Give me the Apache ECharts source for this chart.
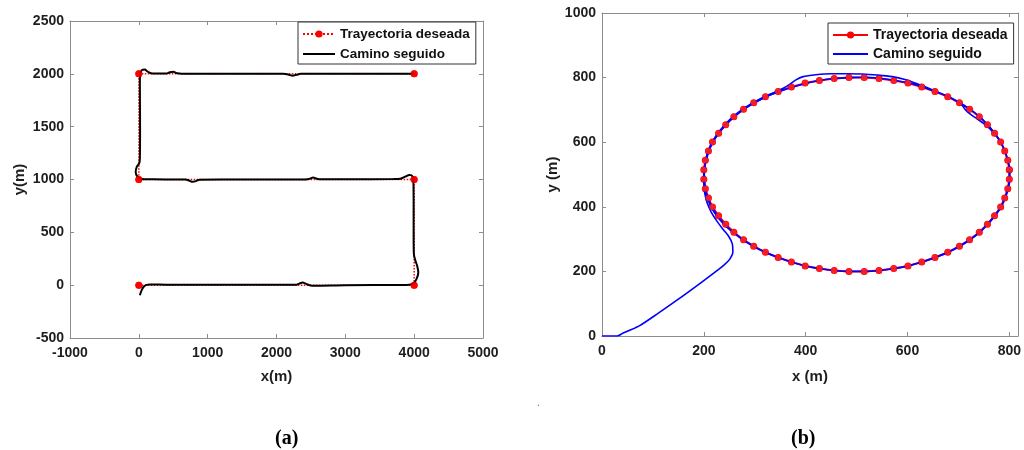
<!DOCTYPE html>
<html>
<head>
<meta charset="utf-8">
<script src="https://cdn.jsdelivr.net/npm/echarts@6/dist/echarts.min.js"></script>
<style>html,body{margin:0;padding:0;background:#fff}#c{width:1024px;height:450px}</style>
</head>
<body>
<div id="c"></div>
<script>
// ---- Plot (a): desired trajectory corners and followed path ----
var desiredA = [[0,0],[4000,0],[4000,1000],[0,1000],[0,2000],[4000,2000]];
var pathA = [[15,-95],[40,-50],[70,-15],[110,3],[160,7],[400,5],[1000,3],[2000,3],[2280,3],[2330,15],[2380,25],[2430,12],[2480,0],[2550,-5],[3000,0],[3800,2],[3930,5],[3990,18],[4035,60],[4060,120],[4045,180],[4015,237],[3995,300],[3992,500],[3992,800],[3990,950],[3988,1010],[3960,1040],[3930,1043],[3870,1027],[3800,1008],[3700,1004],[3000,1003],[2620,1003],[2570,1010],[2530,1020],[2490,1008],[2420,1000],[2000,1000],[1200,1000],[880,998],[830,985],[780,978],[730,990],[680,1000],[500,1000],[150,1003],[40,1005],[-20,1027],[-46,1070],[-30,1120],[5,1152],[15,1200],[18,1500],[15,1900],[18,1990],[40,2032],[85,2040],[130,2020],[200,2003],[400,2003],[450,2015],[500,2020],[560,2005],[700,2000],[2100,2000],[2180,1992],[2230,1983],[2290,1990],[2350,2000],[3000,2000],[4000,2000]];

// ---- Plot (b): desired circular trajectory points and followed path ----
var desiredB = [[800,515],[797,544],[791,573],[783,601],[771,628],[757,654],[741,679],[722,702],[702,722],[679,741],[654,757],[628,771],[601,783],[573,791],[544,797],[515,800],
[485,800],[456,797],[427,791],[399,783],[372,771],[346,757],[321,741],[298,722],[278,702],[259,679],[243,654],[229,628],[217,601],[209,573],[203,544],[200,515],
[200,485],[203,456],[209,427],[217,399],[229,372],[243,346],[259,321],[278,298],[298,278],[321,259],[346,243],[372,229],[399,217],[427,209],[456,203],[485,200],
[515,200],[544,203],[573,209],[601,217],[628,229],[654,243],[679,259],[702,278],[722,298],[741,321],[757,346],[771,372],[783,399],[791,427],[797,456],[800,485],[800,515]];
var pathB = [[0,0],[30,0],[40,8],[52,16],[74,32],[110,70],[150,114],[190,160],[222,198],[240,220],[251,238],[257,260],[256,285],[249,308],[238,330],[226,355],[215,382],[207,410],[202,440],[200,470],[200,500],
[202,530],[206,560],[213,590],[223,618],[236,645],[251,670],[269,694],[290,716],[313,736],[338,754],[355,766],[368,778],[380,792],[395,803],[420,809],[450,812],[480,812],[510,811],[540,808],[570,803],[595,794],[620,780],[645,765],[670,748],[692,731],[706,716],[714,700],[724,686],[738,671],[752,655],[764,638],[775,618],[784,597],[791,573],[797,544],[800,515],[800,485],[797,456],[791,427],[783,399],[771,372],[757,346],[741,321],[722,298],[702,278],[679,259],[654,243],[628,229],[601,217],[573,209],[544,203],[515,200],[485,200],[456,203],[427,209],[399,217],[372,229],[346,243],[321,259],[300,276],[283,292],[268,308],[254,325],[240,345],[227,368],[216,394],[208,423],[203,453],[201,483],
[201,513],[204,543],[210,572],[218,600],[229,627],[243,653],[259,678],[278,701],[299,721],[322,740],[347,756],[373,770],[400,782],[428,791],[457,797],[486,800],[515,801],[544,798],[573,792],[601,784],[628,772],[654,758],[679,742],[702,723],[722,703],[741,680],[757,655],[771,628],[783,601],[791,573],[797,544],[801,515],[801,485],[798,456],[792,427],[784,399],[772,372],[758,346],[742,321],[723,298],[703,278],[680,259],[655,243],[629,229],[602,217],[574,209],[545,203],[515,200],[485,200],[456,203],[427,209],[399,217],[372,229],[346,243],[322,258],[306,270],[292,282],[278,296],[263,314],[248,334],[234,358],[222,384],[212,412],[205,442],[202,472],[201,502],[203,532],[208,562]];

var legendNames = {aDes:'Trayectoria deseada', aAct:'Camino seguido', bDes:'Trayectoria deseada', bAct:'Camino seguido'};

var FONT = 'Liberation Sans, Arial, sans-serif';
var AX = '#8c8c8c';
var TXT = '#1e1e1e';

function xAx(grid, pos, min, max, interval, label, name, nameGap) {
  return {
    type:'value', gridIndex:grid, position:pos, min:min, max:max, interval:interval,
    name: name || '', nameLocation:'middle', nameGap: nameGap || 0,
    nameTextStyle:{fontFamily:FONT, fontWeight:'bold', fontSize:15, color:TXT},
    axisLine:{show:true, onZero:false, lineStyle:{color:AX, width:1}},
    axisTick:{show:true, inside:true, length:4, lineStyle:{color:AX}},
    axisLabel:{show:label, margin:8, fontFamily:FONT, fontWeight:'bold', fontSize:14, color:TXT, showMaxLabel: max % interval === 0,
      formatter:function(v){ return v % interval === 0 ? String(v) : ''; }},
    splitLine:{show:false}
  };
}
function yAx(grid, pos, min, max, interval, label, name, nameGap) {
  var a = xAx(grid, pos, min, max, interval, label, name, nameGap);
  a.axisLabel.margin = 6;
  return a;
}
var hidden = {color:'rgba(0,0,0,0)', borderWidth:0, opacity:0};

var option = {
  animation:false,
  backgroundColor:'#fff',
  grid:[
    {left:70, top:21, width:413, height:317},
    {left:602, top:13, width:420, height:323}
  ],
  xAxis:[
    xAx(0,'bottom',-1000,5000,1000,true,'x(m)',31),
    xAx(0,'top',-1000,5000,1000,false),
    xAx(1,'bottom',0,817,200,true,'x (m)',33),
    xAx(1,'top',0,817,200,false)
  ],
  yAxis:[
    yAx(0,'left',-500,2500,500,true,'y(m)',43),
    yAx(0,'right',-500,2500,500,false),
    yAx(1,'left',0,1000,200,true,'y (m)',42),
    yAx(1,'right',0,1000,200,false)
  ],
  legend:[
    {data:['aDes',{name:'aAct', itemStyle:hidden}], orient:'vertical', left:298, top:22, itemWidth:32, itemHeight:9, itemGap:6,
     padding:[5,6,3,4], borderColor:'#333', borderWidth:1, backgroundColor:'#fff', selectedMode:false,
     formatter:function(n){return legendNames[n];},
     textStyle:{fontFamily:FONT, fontWeight:'bold', fontSize:13.5, color:'#111'}},
    {data:['bDes',{name:'bAct', itemStyle:hidden}], orient:'vertical', left:828, top:23, itemWidth:35, itemHeight:9, itemGap:5,
     padding:[5,6,3,4], borderColor:'#333', borderWidth:1, backgroundColor:'#fff', selectedMode:false,
     formatter:function(n){return legendNames[n];},
     textStyle:{fontFamily:FONT, fontWeight:'bold', fontSize:14, color:'#111'}}
  ],
  series:[
    {name:'aDes', type:'line', xAxisIndex:0, yAxisIndex:0, data:desiredA, symbol:'circle', symbolSize:7,
     showSymbol:true, z:2, lineStyle:{color:'#ff0000', width:1.5, type:'dotted'}, itemStyle:{color:'#ff0000'}},
    {name:'aAct', type:'line', xAxisIndex:0, yAxisIndex:0, data:pathA, symbol:'none', smooth:0.3, z:3,
     lineStyle:{color:'#000', width:2}, itemStyle:{color:'#000'}},
    {name:'aDesPts', type:'scatter', xAxisIndex:0, yAxisIndex:0, data:desiredA, symbol:'circle', symbolSize:7, z:4,
     itemStyle:{color:'#ff0000'}},
    {name:'bDes', type:'line', xAxisIndex:2, yAxisIndex:2, data:desiredB, symbol:'circle', symbolSize:7,
     showSymbol:true, z:2, lineStyle:{color:'#ff0000', width:2}, itemStyle:{color:'#ff0000'}},
    {name:'bAct', type:'line', xAxisIndex:2, yAxisIndex:2, data:pathB, symbol:'none', smooth:0.3, z:3,
     lineStyle:{color:'#0000ff', width:1.6}, itemStyle:{color:'#0000ff'}},
    {name:'bDesPts', type:'scatter', xAxisIndex:2, yAxisIndex:2, data:desiredB.slice(0,64), symbol:'circle', symbolSize:6, z:4,
     itemStyle:{color:'#ff2020', opacity:0.9}}
  ],
  graphic:[
    {type:'text', left:275, top:429, style:{text:'(a)', font:'bold 20px "Liberation Serif", "Times New Roman", serif', fill:'#000'}},
    {type:'text', left:791, top:429, style:{text:'(b)', font:'bold 20px "Liberation Serif", "Times New Roman", serif', fill:'#000'}},
    {type:'text', left:537, top:398, style:{text:'.', font:'10px sans-serif', fill:'#666'}}
  ]
};
var chart = echarts.init(document.getElementById('c'), null, {renderer:'canvas'});
chart.setOption(option);
</script>
</body>
</html>
